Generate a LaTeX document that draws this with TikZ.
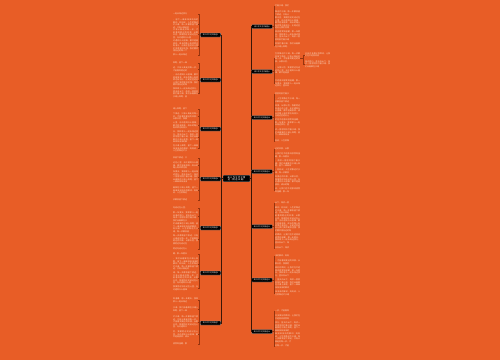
\documentclass[tikz,border=0pt]{standalone}
\usepackage{fontspec}
\newfontfamily\cjk{Noto Sans CJK SC}
\XeTeXlinebreaklocale "zh"
\XeTeXlinebreakskip=0pt plus 0.5pt
\definecolor{bg}{RGB}{232,93,38}
\definecolor{spinec}{RGB}{58,22,6}
\definecolor{leafc}{RGB}{150,52,14}
\definecolor{textc}{RGB}{250,214,190}
\ExplSyntaxOn
\tl_new:N \g_mytext_tl
\tl_gset:Nn \g_mytext_tl {生活中总有许多美好的瞬间，让我们在不经意间感受到温暖。那一年夏天，我和家人一起去海边旅行，蓝天白云下，海浪一层层地拍打着沙滩。我们赤着脚在沙滩上奔跑，留下一串串深深浅浅的脚印。妈妈说，人生就像这片沙滩，每一步都会留下痕迹，只有认真走好每一步，才能看到更远的风景。从那以后，我便把这句话记在心里，无论遇到什么困难，都不轻易放弃。成长的路上有欢笑也有泪水，正是这些经历让我们变得更加坚强。我们要珍惜身边的每一个人，感谢他们给予的关心与帮助，用行动去回报这份深情。青春是一首歌，唱出我们的梦想与希望；青春是一幅画，描绘出我们五彩缤纷的未来。}
\int_new:N \g_mypara_int
\NewDocumentCommand\para{m}{
  \int_gincr:N \g_mypara_int
  \int_set:Nn \l_tmpa_int { \int_mod:nn { \g_mypara_int * 37 } { 150 } + 1 }
  \int_set:Nn \l_tmpb_int { \l_tmpa_int + 12 * #1 - 6 }
  \tl_range:Nnn \g_mytext_tl { \l_tmpa_int } { \l_tmpb_int }
}
\ExplSyntaxOff
\tikzset{
  branch/.style={fill=black, draw=white!60!black, line width=0.25pt, rounded corners=0.6pt,
    text=white, inner sep=0.9pt, minimum width=20.5pt, minimum height=4pt,
    font=\cjk\fontsize{1.8}{2}\selectfont},
  center/.style={fill=black, draw=white!60!black, line width=0.25pt, rounded corners=0.6pt,
    text=white, inner sep=1pt, text width=25pt, align=center,
    font=\cjk\fontsize{2.2}{2.6}\selectfont},
  leaf/.style={text=textc, inner sep=0pt, text width=25pt, align=justify,
    font=\cjk\fontsize{2}{2.4}\selectfont},
  spine/.style={draw=spinec, line width=0.8pt},
  leafline/.style={draw=leafc, line width=0.5pt},
}
\begin{document}
\begin{tikzpicture}[x=1pt,y=-1pt]
\path[fill=bg] (0,0) rectangle (500,360);
\node[center] (C) at (236.5,178.5) {高三作文范文精选（精选14篇）};
% left branches
\foreach \b/\yy/\plist in {
 1/35/{13/1,19/4,29/4,40/5,54/1},
 2/80/{62/1,67/2,74/5,88/4},
 3/129/{108/1,113/3,122/3,131/5,145/3},
 4/179/{157/1,162/3,171/5,187/3,199/1},
 5/228/{207/1,212/4,223/4,235/4,248/1},
 6/273/{253/1,258/5,272/5,286/2},
 7/323/{298/2,307/2,316/5,331/3,343/1}}{
  \node[branch] (L\b) at (210.5,\yy) {高三作文范文精选\b};
  \draw[spine] (C.west) -- ++(-1,0) |- (L\b.east);
  \foreach \t/\n [count=\i] in \plist {
    \node[leaf, anchor=north west] (L\b p\i) at (173,\t) {\para{\n}};
    \draw[leafline] (L\b.west) -- ++(-1,0) |- (L\b p\i.east);
  }
}
% right branches
\foreach \b/\yy/\plist in {
 8/26.7/{5/1,11/2,17/5,31/4,43/2},
 9/71.7/{53/4,67/3,80/3},
 10/117.7/{93/1,98/2,105/5,119/3,129/3,140/1},
 11/171.7/{148/1,153/2,160/3,169/2,176/4,188/2},
 12/226.7/{202/1,207/3,215/7,234/4,247/1},
 13/280/{255/1,260/2,267/4,279/4,291/2},
 14/331.7/{310/1,315/2,322/4,333/4,345/1}}{
  \node[branch] (R\b) at (262,\yy) {高三作文范文精选\b};
  \draw[spine] (C.east) -- ++(1,0) |- (R\b.west);
  \foreach \t/\n [count=\i] in \plist {
    \node[leaf, anchor=north west] (R\b p\i) at (275,\t) {\para{\n}};
    \draw[leafline] (R\b.east) -- ++(1.5,0) |- (R\b p\i.west);
  }
}
% sub leaves
\node[leaf, anchor=north west] (S1) at (305,52.5) {\para{2}};
\node[leaf, anchor=north west] (S2) at (305,60.5) {\para{3}};
\draw[leafline] (R9p1.east) -- ++(2.5,0) |- (S1.west);
\draw[leafline] (R9p1.east) -- ++(2.5,0) |- (S2.west);
\end{tikzpicture}
\end{document}
